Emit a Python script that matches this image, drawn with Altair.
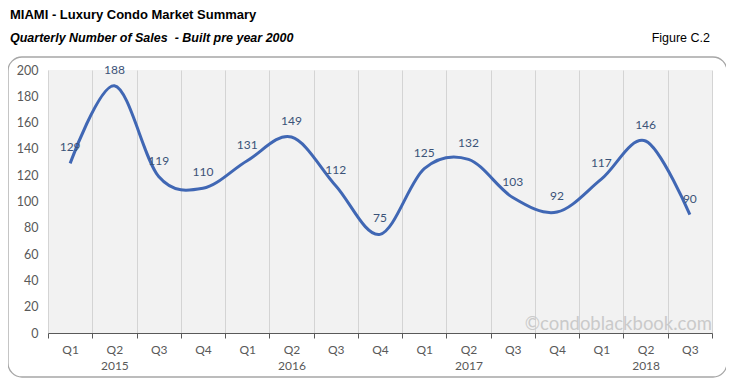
import altair as alt
import pandas as pd

quarters = ["Q1", "Q2", "Q3", "Q4", "Q1", "Q2", "Q3", "Q4", "Q1", "Q2", "Q3", "Q4", "Q1", "Q2", "Q3"]
years = ["2015"] * 4 + ["2016"] * 4 + ["2017"] * 4 + ["2018"] * 3
sales = [129, 188, 119, 110, 131, 149, 112, 75, 125, 132, 103, 92, 117, 146, 90]

keys = [f"{q} {y}" for q, y in zip(quarters, years)]
df = pd.DataFrame({"key": keys, "sales": sales})

W, H = 664, 263
FONT = "Lato"

x_enc = alt.X(
    "key:N",
    sort=keys,
    title=None,
    scale=alt.Scale(type="band", paddingInner=0, paddingOuter=0),
    axis=alt.Axis(
        tickBand="extent",
        grid=True,
        gridColor="#d4d4d4",
        gridWidth=1,
        ticks=True,
        tickSize=5,
        tickColor="#595959",
        domainColor="#595959",
        domainWidth=1.2,
        labelAngle=0,
        labelPadding=6,
        labelFontSize=12,
        labelColor="#595959",
        labelFont=FONT,
        labelLineHeight=16,
        labelOverlap=False,
        labelExpr="!isString(datum.value) ? '' : (split(datum.value,' ')[0] == 'Q2' ? [split(datum.value,' ')[0], split(datum.value,' ')[1]] : split(datum.value,' ')[0])",
    ),
)
y_enc = alt.Y(
    "sales:Q",
    title=None,
    scale=alt.Scale(domain=[0, 200], nice=False),
    axis=alt.Axis(
        values=list(range(0, 201, 20)),
        grid=False,
        ticks=False,
        domain=False,
        labelPadding=10,
        labelFontSize=12.5,
        labelColor="#595959",
        labelFont=FONT,
        labelOverlap=False,
        labelBound=False,
    ),
)

one = pd.DataFrame({"a": [0]})

frame = alt.Chart(one).mark_rect(
    fillOpacity=0, stroke="#a6a6a6", strokeWidth=1.3, cornerRadius=14
).encode(
    x=alt.value(-40), x2=alt.value(679), y=alt.value(-13), y2=alt.value(307)
)

line = alt.Chart(df).mark_line(
    interpolate="cardinal", color="#4067b4", strokeWidth=3
).encode(x=x_enc, y=y_enc)

labels = alt.Chart(df).mark_text(
    dy=-16, fontSize=12, font=FONT, color="#3b5378"
).encode(x=x_enc, y=y_enc, text="sales:Q")

watermark = alt.Chart(one).mark_text(
    text="©condoblackbook.com", align="right", baseline="alphabetic",
    fontSize=18.5, font=FONT, color="#cacaca"
).encode(x=alt.value(W), y=alt.value(260))

title = alt.Chart(one).mark_text(
    text="MIAMI - Luxury Condo Market Summary", align="left", baseline="alphabetic",
    fontSize=13, fontWeight="bold", font="Liberation Sans", color="#000000"
).encode(x=alt.value(-38), y=alt.value(-51))

subtitle = alt.Chart(one).mark_text(
    text="Quarterly Number of Sales\u00a0 - Built pre year 2000", align="left", baseline="alphabetic",
    fontSize=12.5, fontWeight="bold", fontStyle="italic", font="Liberation Sans", color="#000000"
).encode(x=alt.value(-38), y=alt.value(-28))

figure = alt.Chart(one).mark_text(
    text="Figure C.2", align="right", baseline="alphabetic",
    fontSize=12.5, font="Liberation Sans", color="#000000"
).encode(x=alt.value(662), y=alt.value(-28))

chart = alt.layer(frame, line, labels, watermark, title, subtitle, figure).properties(
    width=W,
    height=H,
    autosize=alt.AutoSizeParams(type="none"),
    padding={"left": 40, "top": 62, "right": 14, "bottom": 46},
    background="white",
).configure_view(stroke=None, fill="#f2f2f2")

chart.save("out.html", embed_options={"renderer": "svg", "actions": False})
